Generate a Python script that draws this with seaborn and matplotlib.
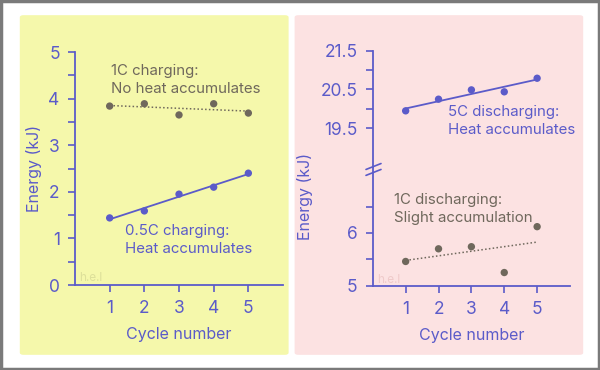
import numpy as np
import pandas as pd
import seaborn as sns
import matplotlib.pyplot as plt
from matplotlib.patches import Rectangle, FancyBboxPatch

sns.set_style("white")
plt.rcParams['font.family'] = ['Inter', 'DejaVu Sans']

# data
cycles = [1, 2, 3, 4, 5]
charge_1c = [3.84, 3.89, 3.65, 3.89, 3.69]
charge_05c = [1.44, 1.59, 1.95, 2.10, 2.40]
discharge_5c = [19.95, 20.25, 20.49, 20.44, 20.79]
discharge_1c = [5.46, 5.70, 5.74, 5.25, 6.12]

left_yticks = [0, 1, 2, 3, 4, 5]
upper_yticks = [19.5, 20.5, 21.5]
lower_yticks = [5, 6]

blue = '#5b5bc9'
grey = '#6f685c'
yellow = '#f5f8ab'
pink = '#fce2e2'

fig = plt.figure(figsize=(6, 3.7), dpi=100)
fig.patch.set_facecolor('white')

# frame + panel backgrounds (behind the axes)
fig.patches.append(Rectangle((0.002, 0.003), 0.996, 0.994, transform=fig.transFigure,
                             fill=False, edgecolor='#7a7a7a', linewidth=2.5, zorder=-10))
fig.patches.append(FancyBboxPatch((0.033, 0.041), 0.448, 0.918, boxstyle='round,pad=0,rounding_size=0.006',
                                  transform=fig.transFigure, facecolor=yellow, edgecolor='none', zorder=-10))
fig.patches.append(FancyBboxPatch((0.491, 0.041), 0.481, 0.918, boxstyle='round,pad=0,rounding_size=0.006',
                                  transform=fig.transFigure, facecolor=pink, edgecolor='none', zorder=-10))


def style_axis(ax):
    ax.set_facecolor('none')
    for s in ['top', 'right']:
        ax.spines[s].set_visible(False)
    for s in ['left', 'bottom']:
        ax.spines[s].set_color(blue)
        ax.spines[s].set_linewidth(1.3)
    ax.tick_params(colors=blue, labelsize=12.5, length=5, width=1.2, pad=6, left=True, bottom=True)
    ax.tick_params(which='minor', colors=blue, length=5, width=1.2, left=True)


def draw_series(ax, y, color, ls):
    d = pd.DataFrame({'x': cycles, 'y': y})
    sns.regplot(data=d, x='x', y='y', ax=ax, ci=None, scatter=False,
                line_kws={'color': color, 'lw': 1.3 if ls == '-' else 1.1, 'ls': ls})
    sns.scatterplot(data=d, x='x', y='y', ax=ax, color=color, s=28, edgecolor='none', zorder=3)
    ax.set_xlabel('')
    ax.set_ylabel('')


# left panel
axl = fig.add_axes([0.125, 0.2297, 0.3467, 0.6297])
style_axis(axl)
draw_series(axl, charge_1c, grey, (0, (1, 1.5)))
draw_series(axl, charge_05c, blue, '-')
axl.set_xlim(0, 6)
axl.set_ylim(0, 5)
axl.set_yticks(left_yticks)
axl.set_yticks(np.arange(0.5, 5, 1), minor=True)
axl.set_xticks(cycles)
axl.set_xlabel('Cycle number', color=blue, fontsize=11.5, labelpad=7)
axl.set_ylabel('Energy (kJ)', color=blue, fontsize=11.5, labelpad=5)
axl.text(1.05, 4.75, '1C charging:\nNo heat accumulates', color=grey, fontsize=10.8, va='top', linespacing=1.35)
axl.text(1.45, 1.3, '0.5C charging:\nHeat accumulates', color=blue, fontsize=10.8, va='top', linespacing=1.35)
axl.text(0.12, 0.08, 'h.e.l', color='#dde09a', fontsize=8.5)

# right panel, broken axis
axu = fig.add_axes([0.6213, 0.5484, 0.3287, 0.3146])
axd = fig.add_axes([0.6213, 0.2278, 0.3287, 0.3206])
for ax in (axu, axd):
    style_axis(ax)
draw_series(axu, discharge_5c, blue, '-')
draw_series(axd, discharge_1c, grey, (0, (1, 1.5)))
for ax in (axu, axd):
    ax.set_xlim(0, 6)
axu.set_ylim(18.5, 21.5)
axu.set_yticks(upper_yticks)
axu.set_yticks([20.0, 21.0], minor=True)
axu.spines['bottom'].set_visible(False)
axu.tick_params(bottom=False, labelbottom=False)
axd.set_ylim(5, 7.25)
axd.set_yticks(lower_yticks)
axd.set_yticks([5.5, 6.5], minor=True)
axd.set_xticks(cycles)
axd.set_xlabel('Cycle number', color=blue, fontsize=11.5, labelpad=7)
fig.text(0.508, 0.47, 'Energy (kJ)', color=blue, fontsize=11.5, rotation=90, ha='center', va='center')
axu.text(2.3, 20.1, '5C discharging:\nHeat accumulates', color=blue, fontsize=10.8, va='top', linespacing=1.35)
axd.text(0.65, 6.76, '1C discharging:\nSlight accumulation', color=grey, fontsize=10.8, va='top', linespacing=1.35)
axd.text(0.12, 5.06, 'h.e.l', color='#efcaca', fontsize=8.5)

# break marks on the y axis
for dy in (0.0, 0.016):
    fig.add_artist(plt.Line2D([0.61, 0.635], [0.542 - dy, 0.558 - dy], color=blue, lw=1.2,
                              transform=fig.transFigure))

fig.savefig('out.png', dpi=100)
